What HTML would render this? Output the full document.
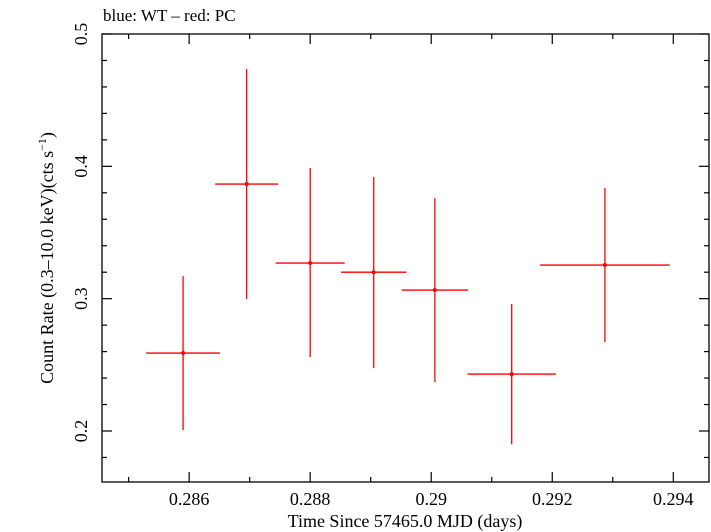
<!DOCTYPE html>
<html><head><meta charset="utf-8"><style>
body{margin:0;background:#fff}
svg{display:block;font-family:"Liberation Serif",serif}
</style></head><body>
<svg id="chart" width="711" height="532" xmlns="http://www.w3.org/2000/svg">
<text x="103" y="21" font-size="17">blue: WT – red: PC</text>
<rect x="102" y="34" width="607" height="448" fill="none" stroke="#000" stroke-width="1.3"/>
<g id="ticks"></g>
<g id="series"></g>
<text x="405" y="527" font-size="18" text-anchor="middle">Time Since 57465.0 MJD (days)</text>
<text transform="translate(53,258) rotate(-90)" font-size="18" text-anchor="middle">Count Rate (0.3–10.0 keV)(cts s<tspan baseline-shift="super" font-size="12">−1</tspan>)</text>
</svg>
<script>
const xVals=[0.2859,0.28695,0.2880,0.28905,0.29006,0.29133,0.29287];
const xErr=[0.00061,0.00052,0.00057,0.00054,0.00055,0.00073,0.00107];
const yVals=[0.2589,0.3866,0.3269,0.3200,0.3065,0.2430,0.3254];
const yHi=[0.3170,0.4735,0.3987,0.3920,0.3760,0.2960,0.3836];
const yLo=[0.2007,0.2997,0.2559,0.2475,0.2370,0.1900,0.2672];
const xTickLabels=["0.286","0.288","0.29","0.292","0.294"];
const yTickLabels=["0.2","0.3","0.4","0.5"];
const L=102,R=709,T=34,B=482;
const xMin=0.28456,xMax=0.29459,yMin=0.16145,yMax=0.5;
const X=v=>L+(v-xMin)/(xMax-xMin)*(R-L);
const Y=v=>B-(v-yMin)/(yMax-yMin)*(B-T);
const NS="http://www.w3.org/2000/svg";
function mk(t,a,p){const e=document.createElementNS(NS,t);for(const k in a)e.setAttribute(k,a[k]);p.appendChild(e);return e;}
const tg=document.getElementById('ticks');
for(let i=0;i<11;i++){const v=0.285+i*0.001;if(v>xMax)break;const x=X(v);const major=Math.abs(((v-0.286)/0.002)-Math.round((v-0.286)/0.002))<1e-6;const len=major?10:5;
const t1=mk('line',{x1:x,x2:x,y1:B,y2:B-len,stroke:'#000','stroke-width':1.2},tg);


const t2=mk('line',{x1:x,x2:x,y1:T,y2:T+len,stroke:'#000','stroke-width':1.2},tg);

}
xTickLabels.forEach(s=>{const e=mk('text',{x:X(parseFloat(s)),y:505,'font-size':18,'text-anchor':'middle'},tg);e.textContent=s;

});
for(let i=0;i<=17;i++){const v=0.18+i*0.02;if(v>yMax+1e-9)break;const y=Y(v);const major=Math.abs(v*10-Math.round(v*10))<1e-6;const len=major?10:5;
const t1=mk('line',{x1:L,x2:L+len,y1:y,y2:y,stroke:'#000','stroke-width':1.2},tg);


const t2=mk('line',{x1:R,x2:R-len,y1:y,y2:y,stroke:'#000','stroke-width':1.2},tg);

}
yTickLabels.forEach(s=>{const y=Y(parseFloat(s));const e=mk('text',{transform:`translate(87,${y}) rotate(-90)`,'font-size':18,'text-anchor':'middle'},tg);e.textContent=s;

});
const sg=document.getElementById('series');
xVals.forEach((xv,i)=>{const g=mk('g',{},sg);


mk('line',{x1:X(xv-xErr[i]),x2:X(xv+xErr[i]),y1:Y(yVals[i]),y2:Y(yVals[i]),stroke:'#ff0000','stroke-width':1.3},g);
mk('line',{x1:X(xv),x2:X(xv),y1:Y(yLo[i]),y2:Y(yHi[i]),stroke:'#ff0000','stroke-width':1.3},g);
mk('circle',{cx:X(xv),cy:Y(yVals[i]),r:2,fill:'#ff0000'},g);});
</script>
</body></html>
